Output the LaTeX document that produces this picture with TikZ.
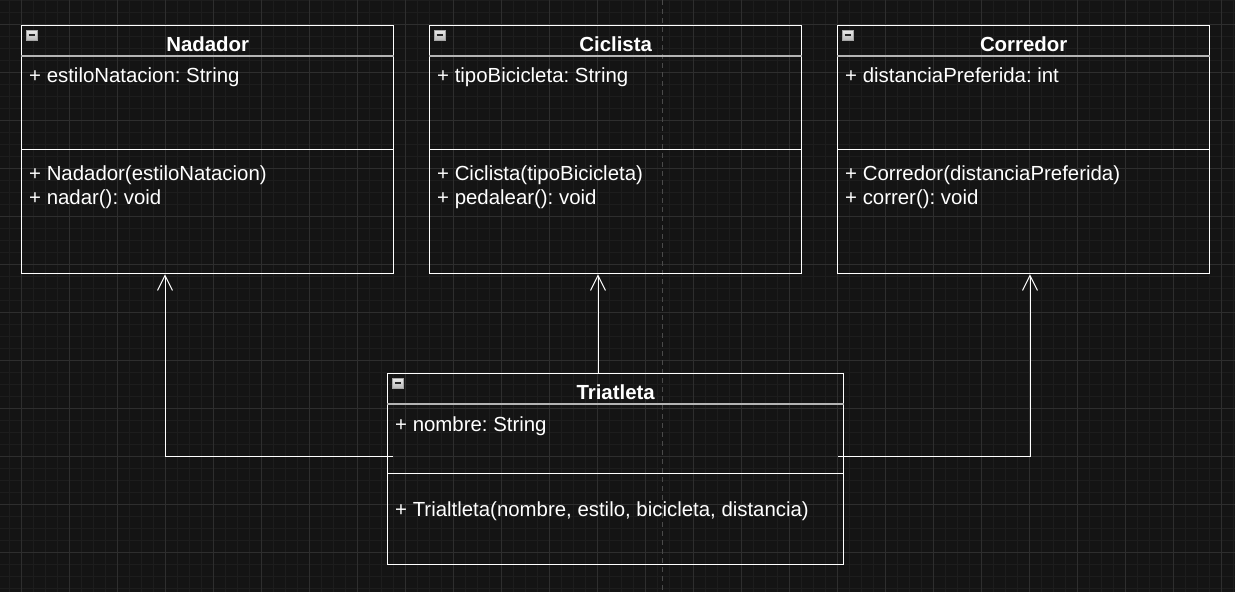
\documentclass[tikz,border=0pt]{standalone}
\usepackage{fontspec}
\setmainfont{Liberation Sans}
\usetikzlibrary{arrows.meta,calc}
\definecolor{fondo}{HTML}{141414}
\definecolor{rejilla}{HTML}{1D1D1D}
\definecolor{rejillamayor}{HTML}{2E2E2E}
\definecolor{guia}{HTML}{4A4A4A}
\definecolor{cabecera}{HTML}{B4B4B4}
\frenchspacing

\begin{document}
\begin{tikzpicture}[x=1pt, y=-1pt,
        clase/.style={draw=white, line width=1.3pt, anchor=north west, inner sep=0pt},
        separa/.style={draw=cabecera, line width=1.6pt},
        divide/.style={draw=white, line width=1pt},
        titulo/.style={anchor=base, text=white, font=\fontsize{20.4}{24}\selectfont\bfseries},
        texto/.style={anchor=base west, text=white, inner sep=0pt, font=\fontsize{20.4}{24}\selectfont},
        icono/.style={draw=gray!70, line width=0.8pt, top color=gray!15, bottom color=gray!55,
            minimum width=11pt, minimum height=10pt, inner sep=0pt,
            path picture={\draw[black!85, line width=1.6pt]
                ([xshift=2.5pt]path picture bounding box.west) -- ([xshift=-2.5pt]path picture bounding box.east);}},
        hereda/.style={draw=white, line width=1pt, -{Straight Barb[length=15pt, width=15pt, line width=1pt]}}]

        % fondo con rejilla
        \useasboundingbox (0,0) rectangle (1235,592);
        \fill[fondo] (0,0) rectangle (1235,592);
        \foreach \gx in {9,21,...,1235} \draw[rejilla, line width=0.6pt] (\gx,0) -- (\gx,592);
        \foreach \gy in {0,12,...,592} \draw[rejilla, line width=0.6pt] (0,\gy) -- (1235,\gy);
        \foreach \gx in {21,69,...,1235} \draw[rejillamayor, line width=0.8pt] (\gx,0) -- (\gx,592);
        \foreach \gy in {24,72,...,592} \draw[rejillamayor, line width=0.8pt] (0,\gy) -- (1235,\gy);
        \draw[guia, line width=0.8pt, dash pattern=on 5pt off 4pt] (662,0) -- (662,592);

        % clases
        \node[clase, minimum width=372pt, minimum height=248pt] (nadador) at (21,25) {};
        \node[clase, minimum width=372pt, minimum height=248pt] (ciclista) at (429,25) {};
        \node[clase, minimum width=372pt, minimum height=248pt] (corredor) at (837,25) {};
        \node[clase, minimum width=456pt, minimum height=191pt] (triatleta) at (387,373) {};

        % Nadador
        \draw[separa] ($(nadador.north west)+(0,31)$) -- ($(nadador.north east)+(0,31)$);
        \draw[divide] ($(nadador.north west)+(0,124)$) -- ($(nadador.north east)+(0,124)$);
        \node[icono] (nadIcono) at ($(nadador.north west)+(10.5,10)$) {};
        \node[titulo] (nadTitulo) at ($(nadador.north)+(0,26)$) {Nadador};
        \node[texto] (nadAtr) at ($(nadador.north west)+(8,57)$) {+ estiloNatacion: String};
        \node[texto] (nadMet1) at ($(nadador.north west)+(8,155)$) {+ Nadador(estiloNatacion)};
        \node[texto] (nadMet2) at ($(nadador.north west)+(8,179)$) {+ nadar(): void};

        % Ciclista
        \draw[separa] ($(ciclista.north west)+(0,31)$) -- ($(ciclista.north east)+(0,31)$);
        \draw[divide] ($(ciclista.north west)+(0,124)$) -- ($(ciclista.north east)+(0,124)$);
        \node[icono] (cicIcono) at ($(ciclista.north west)+(10.5,10)$) {};
        \node[titulo] (cicTitulo) at ($(ciclista.north)+(0,26)$) {Ciclista};
        \node[texto] (cicAtr) at ($(ciclista.north west)+(8,57)$) {+ tipoBicicleta: String};
        \node[texto] (cicMet1) at ($(ciclista.north west)+(8,155)$) {+ Ciclista(tipoBicicleta)};
        \node[texto] (cicMet2) at ($(ciclista.north west)+(8,179)$) {+ pedalear(): void};

        % Corredor
        \draw[separa] ($(corredor.north west)+(0,31)$) -- ($(corredor.north east)+(0,31)$);
        \draw[divide] ($(corredor.north west)+(0,124)$) -- ($(corredor.north east)+(0,124)$);
        \node[icono] (corIcono) at ($(corredor.north west)+(10.5,10)$) {};
        \node[titulo] (corTitulo) at ($(corredor.north)+(0,26)$) {Corredor};
        \node[texto] (corAtr) at ($(corredor.north west)+(8,57)$) {+ distanciaPreferida: int};
        \node[texto] (corMet1) at ($(corredor.north west)+(8,155)$) {+ Corredor(distanciaPreferida)};
        \node[texto] (corMet2) at ($(corredor.north west)+(8,179)$) {+ correr(): void};

        % Triatleta
        \draw[separa] ($(triatleta.north west)+(0,31)$) -- ($(triatleta.north east)+(0,31)$);
        \draw[divide] ($(triatleta.north west)+(0,100)$) -- ($(triatleta.north east)+(0,100)$);
        \node[icono] (triIcono) at ($(triatleta.north west)+(10.5,10)$) {};
        \node[titulo] (triTitulo) at ($(triatleta.north)+(0,26)$) {Triatleta};
        \node[texto] (triAtr) at ($(triatleta.north west)+(8,58)$) {+ nombre: String};
        \node[texto] (triMet) at ($(triatleta.north west)+(8,143)$) {+ Trialtleta(nombre, estilo, bicicleta, distancia)};

        % herencia
        \coordinate (triIzq) at ($(triatleta.north west)+(6,83)$);
        \coordinate (triDer) at ($(triatleta.north east)+(-6,83)$);
        \draw[hereda] (triIzq) -| ($(nadador.south west)+(144,0)$);
        \draw[hereda] ($(triatleta.north west)+(211,0)$) -- ($(ciclista.south west)+(169,0)$);
        \draw[hereda] (triDer) -| ($(corredor.south west)+(193,0)$);
    \end{tikzpicture}
\end{document}
